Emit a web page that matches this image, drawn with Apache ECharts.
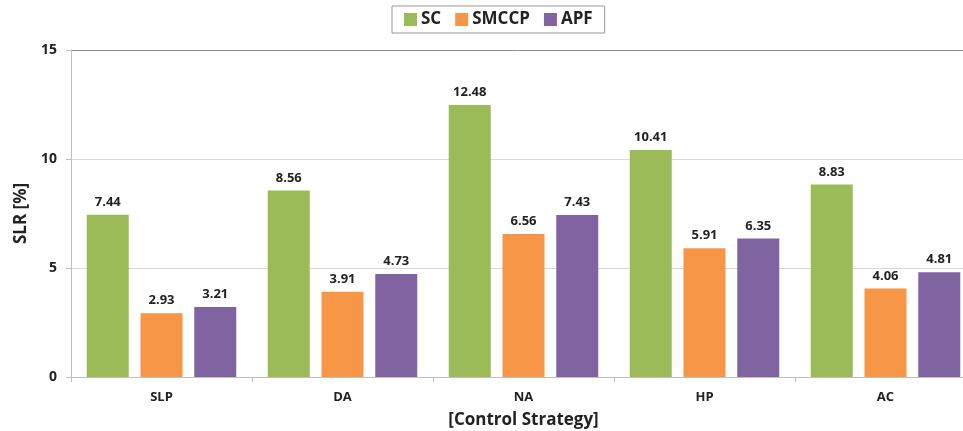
<!DOCTYPE html>
<html>
<head>
<meta charset="utf-8">
<script src="https://cdn.jsdelivr.net/npm/echarts@6/dist/echarts.min.js"></script>
<style>
  html, body { margin: 0; padding: 0; background: #fff; }
  #chart { width: 963px; height: 431px; }
</style>
</head>
<body>
<div id="chart"></div>
<script>
// Slip ratio per control strategy
const categories = ['SLP', 'DA', 'NA', 'HP', 'AC'];
const scValues = [7.44, 8.56, 12.48, 10.41, 8.83];
const smccpValues = [2.93, 3.91, 6.56, 5.91, 4.06];
const apfValues = [3.21, 4.73, 7.43, 6.35, 4.81];
const yTicks = [0, 5, 10, 15];

const FONT = '"Open Sans", "DejaVu Sans", sans-serif';
const chart = echarts.init(document.getElementById('chart'));

function barSeries(name, data, color) {
  return {
    name: name,
    type: 'bar',
    data: data,
    barWidth: 42,
    barGap: '28%',
    itemStyle: { color: color },
    label: {
      show: true,
      position: 'top',
      distance: 6,
      fontFamily: FONT,
      fontWeight: 'bold',
      fontSize: 13,
      color: '#222',
      formatter: p => p.value.toFixed(2)
    }
  };
}

chart.setOption({
  animation: false,
  textStyle: { fontFamily: FONT },
  legend: {
    top: 6,
    left: 392,
    padding: [5, 12, 5, 12],
    borderColor: '#999',
    borderWidth: 1,
    itemWidth: 13,
    itemHeight: 13,
    itemGap: 14,
    icon: 'rect',
    textStyle: { fontFamily: FONT, fontWeight: 'bold', fontSize: 17, color: '#222', padding: [0, 0, 0, -1] }
  },
  grid: { left: 71, top: 50, width: 905, height: 327, outerBoundsMode: 'none', containLabel: false },
  xAxis: {
    type: 'category',
    data: categories,
    name: '[Control Strategy]',
    nameLocation: 'middle',
    nameGap: 35,
    nameTextStyle: { fontFamily: FONT, fontWeight: 'bold', fontSize: 17, color: '#222' },
    axisLine: { lineStyle: { color: '#bfbfbf' } },
    axisTick: { show: true, length: 5, lineStyle: { color: '#bfbfbf' } },
    axisLabel: { fontFamily: FONT, fontWeight: 'bold', fontSize: 13, color: '#222', margin: 14 }
  },
  yAxis: {
    type: 'value',
    min: yTicks[0],
    max: yTicks[yTicks.length - 1],
    interval: 5,
    name: 'SLR [%]',
    nameLocation: 'middle',
    nameGap: 36,
    nameRotate: 90,
    nameTextStyle: { fontFamily: FONT, fontWeight: 'bold', fontSize: 17, color: '#222' },
    axisLine: { show: true, lineStyle: { color: '#bfbfbf' } },
    axisTick: { show: true, length: 5, inside: false, lineStyle: { color: '#bfbfbf' } },
    axisLabel: { fontFamily: FONT, fontWeight: 'bold', fontSize: 14, color: '#222', margin: 14 },
    splitLine: {
      lineStyle: {
        color: ['#d9d9d9', '#d9d9d9', '#d9d9d9', '#8c8c8c']
      }
    }
  },
  series: [
    barSeries('SC', scValues, '#9BBB59'),
    barSeries('SMCCP', smccpValues, '#F79646'),
    barSeries('APF', apfValues, '#8064A2')
  ]
});
</script>
</body>
</html>
